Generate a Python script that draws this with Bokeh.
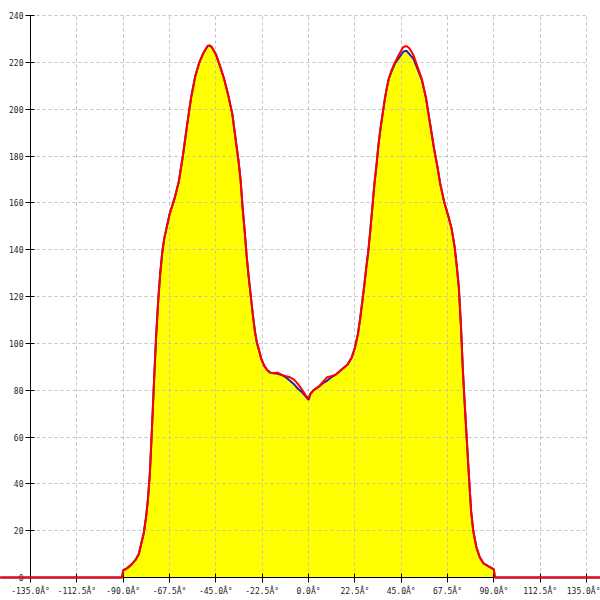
from bokeh.plotting import figure
from bokeh.models import Range1d, FixedTicker
from bokeh.embed import file_html
from bokeh.resources import INLINE

# ---- data ----
angle_deg = [-150, -90.5, -90, -88, -86, -84, -82.4, -80, -79, -78, -77, -76, -75, -74, -73, -72, -71, -70, -69,
             -67.5, -65, -63, -61, -59, -57, -55, -53, -51, -49, -48, -47, -45, -43, -41, -39, -37, -35.5, -34,
             -33, -32, -31, -30, -29, -28, -27, -26, -25, -24, -23, -21.5, -20, -18.5, -17, -15, -13, -11, -9,
             -7, -5, -3, -1.5, 0, 1, 2.5, 5, 7, 9, 11, 13, 15, 17, 19, 21, 22.5, 24, 25, 26, 27, 28, 29, 30,
             31, 32, 33, 34, 35, 36, 37, 38, 39, 40.5, 42, 44, 46, 47.5, 49, 51, 53, 55, 57, 59, 61, 62.5, 64,
             66, 68, 69.5, 71, 72, 73, 74, 75, 76, 77, 78, 79, 80, 81.5, 83, 85, 87, 89, 90, 90.5, 150]

red_series = [0, 0, 3, 4, 5.5, 7.5, 10, 19, 25, 33, 45, 64, 84, 103, 118, 130, 139, 145, 149,
              155, 162, 169, 180, 193, 205, 214, 220, 224, 227, 227.2, 226.5, 223.5, 218.5, 213, 206, 198, 188, 178,
              170, 158, 148, 137, 128, 120, 112, 105, 100, 97, 93.5, 90.5, 88.5, 87.5, 87.2, 87.5, 86.5, 86, 85.5,
              84.5, 82.5, 80, 78, 76.3, 78.5, 80, 81.5, 83.5, 85.5, 86, 86.5, 88, 89.5, 91, 94, 98, 104, 110, 117,
              124, 132, 139, 148, 158, 168, 176, 185, 192, 198, 204, 209, 213, 217, 220, 223.5, 226.5, 227, 226,
              223, 218, 213, 205, 194, 183, 176, 168, 160, 154, 149, 141, 133, 124, 108, 88, 72, 57, 42, 28, 20,
              13, 9, 6, 5, 4, 3.5, 0, 0]

blue_series = [0, 0, 3, 4, 5.5, 7.5, 10, 19, 25, 33, 45, 64, 84, 103, 118, 130, 139, 145, 149,
               155, 162, 169, 180, 193, 205, 214, 220, 224, 227, 227.2, 226.5, 223.5, 218.5, 213, 206, 198, 188, 178,
               170, 158, 148, 137, 128, 120, 112, 105, 100, 97, 93.5, 90.5, 88.5, 87.5, 87.2, 87, 86.5, 85.5, 84,
               82.5, 80.5, 79, 77.5, 75.8, 78.5, 80, 81.5, 83, 84, 85.5, 86.5, 88, 89.5, 91, 94, 98, 104, 110, 117,
               124, 132, 139, 148, 158, 168, 176, 185, 192, 198, 204, 209, 213, 216.5, 219.5, 222, 224.5, 225, 223.5,
               221.5, 217, 212.5, 205, 194, 183, 176, 168, 160, 154, 149, 141, 133, 124, 108, 88, 72, 57, 42, 28, 20,
               13, 9, 6, 5, 4, 3.5, 0, 0]

x_ticks = [-135, -112.5, -90, -67.5, -45, -22.5, 0, 22.5, 45, 67.5, 90, 112.5, 135]
x_tick_labels = ["-135.0Â°", "-112.5Â°", "-90.0Â°", "-67.5Â°", "-45.0Â°", "-22.5Â°", "0.0Â°",
                 "22.5Â°", "45.0Â°", "67.5Â°", "90.0Â°", "112.5Â°", "135.0Â°"]
y_ticks = [0, 20, 40, 60, 80, 100, 120, 140, 160, 180, 200, 220, 240]

x_lo, x_hi = x_ticks[0], x_ticks[-1]
y_lo, y_hi = y_ticks[0], y_ticks[-1]

# frame fills the whole 600x600 canvas; axes sit at fixed data positions
W, H = 600, 600
left_px, right_px, top_px, bottom_px = 30, 586, 15, 577
ux = (right_px - left_px) / (x_hi - x_lo)
uy = (bottom_px - top_px) / (y_hi - y_lo)
xr = Range1d(x_lo - left_px / ux, x_hi + (W - right_px) / ux)
yr = Range1d(y_lo - (H - bottom_px) / uy, y_hi + top_px / uy)

p = figure(width=W, height=H, output_backend="svg", toolbar_location=None,
           x_range=xr, y_range=yr,
           min_border_left=0, min_border_right=0, min_border_top=0, min_border_bottom=0)
p.outline_line_color = None
p.background_fill_color = "white"
p.border_fill_color = "white"

p.varea(x=angle_deg, y1=0, y2=blue_series, fill_color="#FFFF00", level="image")
p.line(angle_deg, blue_series, line_color="#2222aa", line_width=2)
p.line(angle_deg, red_series, line_color="#FF0000", line_width=2, level="overlay")

xa, ya = p.xaxis[0], p.yaxis[0]
xa.fixed_location = y_lo
ya.fixed_location = x_lo
xa.bounds = (x_lo, x_hi)
ya.bounds = (y_lo, y_hi)

for ax in (xa, ya):
    ax.axis_line_color = "black"
    ax.axis_line_width = 1
    ax.major_tick_line_color = "black"
    ax.major_tick_in = 4
    ax.major_tick_out = 5
    ax.minor_tick_line_color = None
    ax.major_label_text_font = "DejaVu Sans Mono"
    ax.major_label_text_font_size = "8px"
    ax.major_label_text_color = "#222222"
xa.major_label_standoff = 4
ya.major_label_standoff = 2

xa.ticker = FixedTicker(ticks=x_ticks)
xa.major_label_overrides = {t: lab for t, lab in zip(x_ticks, x_tick_labels)}
ya.ticker = FixedTicker(ticks=y_ticks)

xg, yg = p.xgrid[0], p.ygrid[0]
for g in (xg, yg):
    g.grid_line_color = "#c0c0c0"
    g.grid_line_dash = "3 3"
    g.grid_line_width = 1
xg.bounds = (x_lo, x_hi)
yg.bounds = (y_lo, y_hi)
if hasattr(xg, "cross_bounds"):
    xg.cross_bounds = (y_lo, y_hi)
    yg.cross_bounds = (x_lo, x_hi)

open("out.html", "w").write(file_html(p, INLINE))
